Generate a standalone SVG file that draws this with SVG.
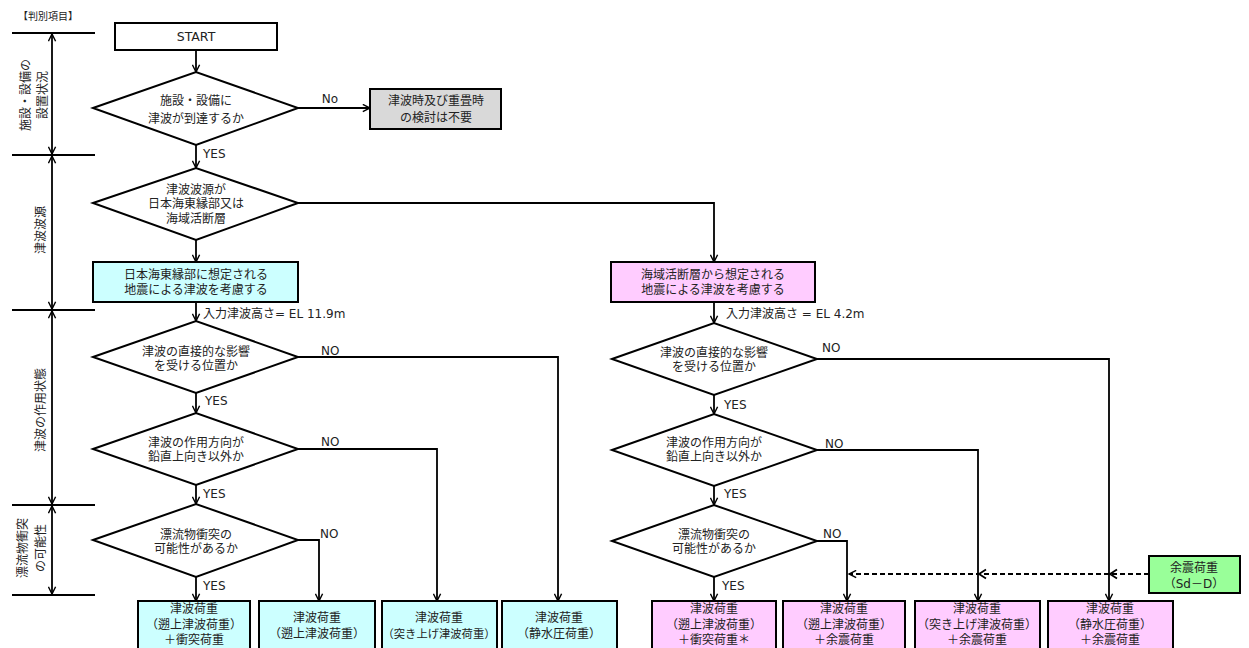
<svg xmlns="http://www.w3.org/2000/svg" width="1249" height="648" viewBox="0 0 1249 648">
<defs>
<marker id="arr" viewBox="0 0 10 10" refX="9" refY="5" markerWidth="9" markerHeight="9" markerUnits="userSpaceOnUse" orient="auto-start-reverse"><path d="M1,1 L9,5 L1,9" fill="none" stroke="#000" stroke-width="1.6"/></marker>
</defs>
<style>
text{font-family:"DejaVu Sans","Noto Sans CJK JP",sans-serif;font-size:12px;fill:#222;text-anchor:middle}
.lbl{text-anchor:start}
.small{font-size:10px}
.box{stroke:#000;stroke-width:2}
.dia{fill:#fff;stroke:#000;stroke-width:2}
.cy{fill:#ccffff}
.pk{fill:#ffccff}
.gy{fill:#d9d9d9}
.gr{fill:#99ff99}
.wh{fill:#fff}
.ln{fill:none;stroke:#000;stroke-width:1.8}
.ar{marker-end:url(#arr)}
.dash{fill:none;stroke:#000;stroke-width:1.8;stroke-dasharray:5,3}
</style>

<g id="sidebar">
<text x="48" y="20" class="small">【判別項目】</text>
<g class="ln">
<line x1="12" y1="33" x2="95" y2="33"/>
<line x1="12" y1="155" x2="95" y2="155"/>
<line x1="12" y1="310" x2="95" y2="310"/>
<line x1="12" y1="505" x2="95" y2="505"/>
<line x1="12" y1="595" x2="95" y2="595"/>
</g>
<g class="ln" marker-start="url(#arr)" marker-end="url(#arr)">
<line x1="52" y1="34" x2="52" y2="154"/>
<line x1="52" y1="156" x2="52" y2="309"/>
<line x1="52" y1="311" x2="52" y2="504"/>
<line x1="52" y1="506" x2="52" y2="594"/>
</g>
<text transform="translate(30,95) rotate(-90)">施設・設備の</text>
<text transform="translate(47,95) rotate(-90)">設置状況</text>
<text transform="translate(45,230) rotate(-90)">津波波源</text>
<text transform="translate(45,410) rotate(-90)">津波の作用状態</text>
<text transform="translate(27,548) rotate(-90)">漂流物衝突</text>
<text transform="translate(45,548) rotate(-90)">の可能性</text>
</g>

<g id="connectors">
<path class="ln ar" d="M196,50 V72"/>
<path class="ln ar" d="M196,145 V168"/>
<path class="ln ar" d="M298,108 H370"/>
<path class="ln ar" d="M196,240 V262"/>
<path class="ln ar" d="M298,203 H714 V262"/>
<path class="ln ar" d="M196,302 V321"/>
<path class="ln ar" d="M196,393 V413"/>
<path class="ln ar" d="M196,485 V504"/>
<path class="ln ar" d="M196,577 V601"/>
<path class="ln ar" d="M298,357 H558 V601"/>
<path class="ln ar" d="M298,449 H437 V601"/>
<path class="ln ar" d="M298,540 H319 V601"/>
<path class="ln ar" d="M714,302 V323"/>
<path class="ln ar" d="M714,395 V414"/>
<path class="ln ar" d="M714,486 V505"/>
<path class="ln ar" d="M714,577 V601"/>
<path class="ln ar" d="M817,359 H1109 V601"/>
<path class="ln ar" d="M817,450 H978 V601"/>
<path class="ln ar" d="M817,541 H847 V601"/>
<path class="dash ar" d="M1149,574 H849"/>
<path class="ln" d="M986,569.5 L979,574 L986,578.5"/>
<path class="ln" d="M1117,569.5 L1110,574 L1117,578.5"/>
<text x="330" y="103">No</text>
<text x="203" y="158" class="lbl">YES</text>
<text x="203" y="318" class="lbl">入力津波高さ=  EL 11.9m</text>
<text x="321" y="355" class="lbl">NO</text>
<text x="205" y="405" class="lbl">YES</text>
<text x="321" y="446" class="lbl">NO</text>
<text x="203" y="498" class="lbl">YES</text>
<text x="320" y="538" class="lbl">NO</text>
<text x="203" y="590" class="lbl">YES</text>
<text x="726" y="318" class="lbl">入力津波高さ = EL 4.2m</text>
<text x="822" y="352" class="lbl">NO</text>
<text x="724" y="409" class="lbl">YES</text>
<text x="825" y="448" class="lbl">NO</text>
<text x="724" y="498" class="lbl">YES</text>
<text x="823" y="538" class="lbl">NO</text>
<text x="722" y="590" class="lbl">YES</text>
</g>

<g id="start">
<rect class="box wh" x="115" y="23" width="162" height="27"/>
<text x="196" y="41" style="font-size:12.5px">START</text>
</g>

<g id="d1">
<polygon class="dia" points="93,108 196,72 298,108 196,145"/>
<text x="196" y="105">施設・設備に</text>
<text x="196" y="123">津波が到達するか</text>
</g>

<g id="none">
<rect class="box gy" x="370" y="89" width="131" height="40"/>
<text x="436" y="105">津波時及び重畳時</text>
<text x="436" y="122">の検討は不要</text>
</g>

<g id="d2">
<polygon class="dia" points="93,203 196,168 298,203 196,240"/>
<text x="196" y="194">津波波源が</text>
<text x="196" y="208">日本海東縁部又は</text>
<text x="196" y="223">海域活断層</text>
</g>

<g id="src-left">
<rect class="box cy" x="93" y="262" width="205" height="40"/>
<text x="196" y="279">日本海東縁部に想定される</text>
<text x="196" y="294">地震による津波を考慮する</text>
</g>

<g id="src-right">
<rect class="box pk" x="611" y="262" width="204" height="40"/>
<text x="713" y="279">海域活断層から想定される</text>
<text x="713" y="294">地震による津波を考慮する</text>
</g>

<g id="d3">
<polygon class="dia" points="93,357 196,321 298,357 196,393"/>
<text x="196" y="356">津波の直接的な影響</text>
<text x="196" y="370">を受ける位置か</text>
</g>
<g id="d4">
<polygon class="dia" points="93,449 196,413 298,449 196,485"/>
<text x="196" y="447">津波の作用方向が</text>
<text x="196" y="461">鉛直上向き以外か</text>
</g>
<g id="d5">
<polygon class="dia" points="93,540 196,504 298,540 196,577"/>
<text x="196" y="539">漂流物衝突の</text>
<text x="196" y="553">可能性があるか</text>
</g>

<g id="d3r">
<polygon class="dia" points="612,359 714,323 817,359 714,395"/>
<text x="714" y="357">津波の直接的な影響</text>
<text x="714" y="371">を受ける位置か</text>
</g>
<g id="d4r">
<polygon class="dia" points="612,450 714,414 817,450 714,486"/>
<text x="714" y="447">津波の作用方向が</text>
<text x="714" y="461">鉛直上向き以外か</text>
</g>
<g id="d5r">
<polygon class="dia" points="612,541 714,505 817,541 714,577"/>
<text x="714" y="539">漂流物衝突の</text>
<text x="714" y="553">可能性があるか</text>
</g>

<g id="b1">
<rect class="box cy" x="138" y="601" width="112" height="56"/>
<text x="194" y="613">津波荷重</text>
<text x="194" y="629">（遡上津波荷重）</text>
<text x="194" y="644">＋衝突荷重</text>
</g>
<g id="b2">
<rect class="box cy" x="259" y="601" width="116" height="56"/>
<text x="317" y="622">津波荷重</text>
<text x="317" y="638">（遡上津波荷重）</text>
</g>
<g id="b3">
<rect class="box cy" x="382" y="601" width="115" height="56"/>
<text x="439" y="622">津波荷重</text>
<text x="439" y="638" style="font-size:11.3px">（突き上げ津波荷重）</text>
</g>
<g id="b4">
<rect class="box cy" x="502" y="601" width="115" height="56"/>
<text x="559" y="622">津波荷重</text>
<text x="559" y="638">（静水圧荷重）</text>
</g>

<g id="b1r">
<rect class="box pk" x="652" y="601" width="124" height="56"/>
<text x="714" y="613">津波荷重</text>
<text x="714" y="629">（遡上津波荷重）</text>
<text x="714" y="644">＋衝突荷重＊</text>
</g>
<g id="b2r">
<rect class="box pk" x="783" y="601" width="122" height="56"/>
<text x="844" y="613">津波荷重</text>
<text x="844" y="629">（遡上津波荷重）</text>
<text x="844" y="644">＋余震荷重</text>
</g>
<g id="b3r">
<rect class="box pk" x="915" y="601" width="125" height="56"/>
<text x="977" y="613">津波荷重</text>
<text x="977" y="629">（突き上げ津波荷重）</text>
<text x="977" y="644">＋余震荷重</text>
</g>
<g id="b4r">
<rect class="box pk" x="1048" y="601" width="125" height="56"/>
<text x="1110" y="613">津波荷重</text>
<text x="1110" y="629">（静水圧荷重）</text>
<text x="1110" y="644">＋余震荷重</text>
</g>

<g id="aftershock">
<rect class="box gr" x="1149" y="556" width="91" height="37"/>
<text x="1194" y="572">余震荷重</text>
<text x="1194" y="588">（Sd－D）</text>
</g>
</svg>
